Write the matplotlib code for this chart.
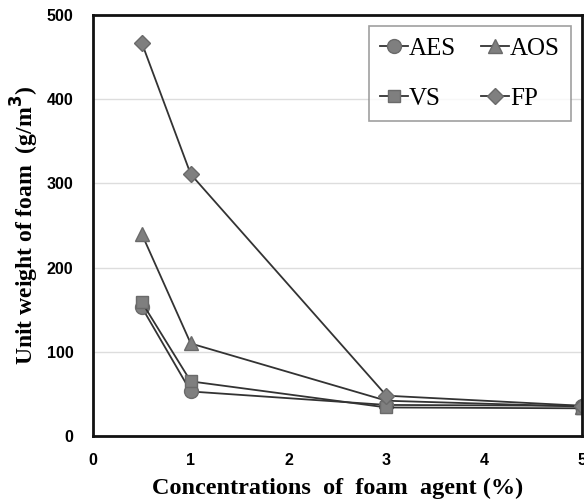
import matplotlib
matplotlib.use("Agg")
import matplotlib.pyplot as plt

x = [0.5, 1, 3, 5]
aes = [153, 53, 37, 36]
aos = [240, 110, 42, 35]
vs = [159, 65, 34, 33]
fp = [467, 311, 48, 36]
series_names = ["AES", "AOS", "VS", "FP"]
x_ticks = [0, 1, 2, 3, 4, 5]
y_ticks = [0, 100, 200, 300, 400, 500]

fig = plt.figure(figsize=(5.84, 5.03), dpi=100)
ax = fig.add_axes([0.159, 0.133, 0.838, 0.837])

mk = dict(color="#333333", lw=1.3, markerfacecolor="#7f7f7f", markeredgecolor="#6a6a6a", clip_on=True)
h_aes, = ax.plot(x, aes, marker="o", ms=10, label=series_names[0], **mk)
h_aos, = ax.plot(x, aos, marker="^", ms=10, label=series_names[1], **mk)
h_vs, = ax.plot(x, vs, marker="s", ms=9, label=series_names[2], **mk)
h_fp, = ax.plot(x, fp, marker="D", ms=8, label=series_names[3], **mk)

ax.set_xlim(0, 5)
ax.set_ylim(0, 500)
ax.set_xticks(x_ticks)
ax.set_yticks(y_ticks)
ax.yaxis.grid(True, color="#dddddd", lw=1)
ax.set_axisbelow(True)
for s in ax.spines.values():
    s.set_linewidth(2)
    s.set_color("#111111")
ax.tick_params(length=0)
ax.tick_params(axis="y", pad=14)
ax.tick_params(axis="x", pad=12)
for lab in ax.get_xticklabels() + ax.get_yticklabels():
    lab.set_fontfamily("Liberation Sans")
    lab.set_fontweight("bold")
    lab.set_fontsize(11.5)

ax.set_xlabel("Concentrations  of  foam  agent (%)", fontfamily="Liberation Serif",
              fontweight="bold", fontsize=17.5, labelpad=7)
ax.set_ylabel("Unit weight of foam  (g/m$^\\mathbf{3}$)", fontfamily="Liberation Serif",
              fontweight="bold", fontsize=17, labelpad=4)

handles = [h_aes, h_vs, h_aos, h_fp]
leg = ax.legend(handles=handles, labels=[h.get_label() for h in handles], ncol=2,
                loc="upper right", prop={"family": "Liberation Serif", "size": 18},
                frameon=True, fancybox=False, edgecolor="#888888", handlelength=1.1,
                handletextpad=0.05, columnspacing=1.0, borderaxespad=0.45,
                labelspacing=1.1, borderpad=0.45)
leg.get_frame().set_linewidth(1.2)

fig.savefig("out.png", dpi=100)
